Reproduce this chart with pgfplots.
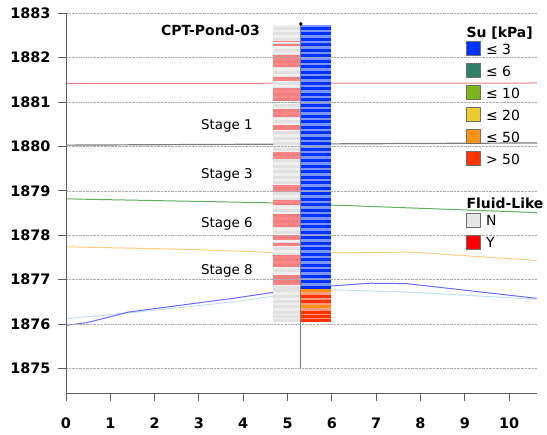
\documentclass[border=0pt]{standalone}
\usepackage{fontspec}
\setmainfont{DejaVu Sans}
\usepackage{pgfplots}
\usepackage{pgfplotstable}
\pgfplotsset{compat=1.18}

\definecolor{su3}{RGB}{0,51,255}
\definecolor{su3l}{RGB}{125,150,255}
\definecolor{su6}{RGB}{46,128,102}
\definecolor{su10}{RGB}{124,181,24}
\definecolor{su20}{RGB}{235,205,45}
\definecolor{su50}{RGB}{255,145,20}
\definecolor{su99}{RGB}{255,51,0}
\definecolor{botl}{RGB}{255,155,125}
\definecolor{fN}{RGB}{230,230,230}
\definecolor{fNbg}{RGB}{240,240,240}
\definecolor{fY}{RGB}{255,0,0}
\definecolor{fYl}{RGB}{255,135,135}
\definecolor{swgray}{RGB}{110,110,110}
\definecolor{axgray}{RGB}{95,95,95}
\definecolor{lred}{RGB}{240,130,130}
\definecolor{lgray}{RGB}{125,125,125}
\definecolor{lgreen}{RGB}{95,175,95}
\definecolor{lorange}{RGB}{255,205,130}
\definecolor{lblue}{RGB}{105,105,255}
\definecolor{lcyan}{RGB}{190,225,240}

\pgfplotstableread{
xs xf y
5.64 4.985 1882.660
5.64 4.985 1882.536
5.64 4.985 1882.412
5.64 4.985 1882.288
5.64 4.985 1882.164
5.64 4.985 1882.040
5.64 4.985 1881.916
5.64 4.985 1881.792
5.64 4.985 1881.668
5.64 4.985 1881.544
5.64 4.985 1881.420
5.64 4.985 1881.296
5.64 4.985 1881.172
5.64 4.985 1881.048
5.64 4.985 1880.924
5.64 4.985 1880.800
5.64 4.985 1880.676
5.64 4.985 1880.552
5.64 4.985 1880.428
5.64 4.985 1880.304
5.64 4.985 1880.180
5.64 4.985 1880.056
5.64 4.985 1879.932
5.64 4.985 1879.808
5.64 4.985 1879.684
5.64 4.985 1879.560
5.64 4.985 1879.436
5.64 4.985 1879.312
5.64 4.985 1879.188
5.64 4.985 1879.064
5.64 4.985 1878.940
5.64 4.985 1878.816
5.64 4.985 1878.692
5.64 4.985 1878.568
5.64 4.985 1878.444
5.64 4.985 1878.320
5.64 4.985 1878.196
5.64 4.985 1878.072
5.64 4.985 1877.948
5.64 4.985 1877.824
5.64 4.985 1877.700
5.64 4.985 1877.576
5.64 4.985 1877.452
5.64 4.985 1877.328
5.64 4.985 1877.204
5.64 4.985 1877.080
5.64 4.985 1876.956
5.64 4.985 1876.832
5.64 4.985 1876.760
5.64 4.985 1876.630
5.64 4.985 1876.510
5.64 4.985 1876.400
5.64 4.985 1876.260
5.64 4.985 1876.170
5.64 4.985 1876.070
}\allstripes

\pgfplotstableread{
xs xf y
5.64 4.985 1882.660
5.64 4.985 1882.536
5.64 4.985 1882.412
5.64 4.985 1882.288
5.64 4.985 1882.164
5.64 4.985 1882.040
5.64 4.985 1881.916
5.64 4.985 1881.792
5.64 4.985 1881.668
5.64 4.985 1881.544
5.64 4.985 1881.420
5.64 4.985 1881.296
5.64 4.985 1881.172
5.64 4.985 1881.048
5.64 4.985 1880.924
5.64 4.985 1880.800
5.64 4.985 1880.676
5.64 4.985 1880.552
5.64 4.985 1880.428
5.64 4.985 1880.304
5.64 4.985 1880.180
5.64 4.985 1880.056
5.64 4.985 1879.932
5.64 4.985 1879.808
5.64 4.985 1879.684
5.64 4.985 1879.560
5.64 4.985 1879.436
5.64 4.985 1879.312
5.64 4.985 1879.188
5.64 4.985 1879.064
5.64 4.985 1878.940
5.64 4.985 1878.816
5.64 4.985 1878.692
5.64 4.985 1878.568
5.64 4.985 1878.444
5.64 4.985 1878.320
5.64 4.985 1878.196
5.64 4.985 1878.072
5.64 4.985 1877.948
5.64 4.985 1877.824
5.64 4.985 1877.700
5.64 4.985 1877.576
5.64 4.985 1877.452
5.64 4.985 1877.328
5.64 4.985 1877.204
5.64 4.985 1877.080
5.64 4.985 1876.956
5.64 4.985 1876.832
}\bluestripes

\pgfplotstableread{
xs xf y
5.64 4.985 1876.760
5.64 4.985 1876.400
}\orangestripes

\pgfplotstableread{
xs xf y
5.64 4.985 1876.630
5.64 4.985 1876.510
5.64 4.985 1876.260
5.64 4.985 1876.170
5.64 4.985 1876.070
}\redstripes

% fluid-like = Y bands (top, bottom elevation)
\newcommand{\band}[2]{\addplot[draw=none, fill=fYl, forget plot] coordinates {(4.67,#1) (5.30,#1) (5.30,#2) (4.67,#2)};}

\pgfplotsset{legend image code/.code={\draw[#1] (0bp,-5bp) rectangle (14bp,9bp); \path (20bp,0bp);}}

\begin{document}
\begin{tikzpicture}
\useasboundingbox (-66bp,-41.7bp) rectangle (481bp,393.3bp);
\begin{axis}[
  width=471bp, height=380bp, scale only axis,
  xmin=0, xmax=10.63, ymin=1874.44, ymax=1883,
  axis x line*=bottom, axis y line*=left,
  x axis line style={-}, y axis line style={-},
  axis line style={color=axgray, line width=1bp},
  xtick={0,1,2,3,4,5,6,7,8,9,10},
  ytick={1875,1876,1877,1878,1879,1880,1881,1882,1883},
  tick align=outside, major tick length=8bp,
  tick style={color=axgray, line width=0.9bp},
  ymajorgrids,
  major grid style={densely dotted, color=gray!65, line width=0.7bp},
  axis on top,
  /pgf/number format/assume math mode=true,
  /pgf/number format/1000 sep={},
  tick label style={font=\fontsize{14.5}{16}\selectfont\bfseries},
  yticklabel style={xshift=-4bp},
  xticklabel style={yshift=-13bp},
  legend style={at={(rel axis cs:0.8486,0.989)}, anchor=north west,
    draw=none, fill=none, inner sep=0pt, outer sep=0pt,
    row sep=0pt, column sep=0pt,
    font=\fontsize{14}{16}\selectfont,
    nodes={inner sep=0pt, text height=15bp, text depth=7bp}},
  legend cell align=left,
]
% horizons
\addplot[forget plot, color=lred, line width=1bp] coordinates {(0,1881.42) (10.63,1881.43)};
\addplot[forget plot, color=lgray, line width=1.2bp] coordinates {(0,1880.03) (10.63,1880.08)};
\addplot[forget plot, color=lgreen, line width=1bp] coordinates {(0,1878.82) (4.67,1878.73) (10.63,1878.51)};
\addplot[forget plot, color=lorange, line width=1bp] coordinates {(0,1877.74) (2.87,1877.68) (5,1877.60) (7.8,1877.62) (10.63,1877.43)};
\addplot[forget plot, color=lcyan, line width=1bp] coordinates {(0,1876.12) (1.4,1876.25) (3.8,1876.50) (5.3,1876.72) (6.1,1876.77) (7.7,1876.72) (10.62,1876.56)};
\addplot[forget plot, color=lblue, line width=1bp] coordinates {(0,1875.97) (0.47,1876.03) (1.41,1876.27) (3.78,1876.58) (5.32,1876.81) (6.86,1876.92) (7.69,1876.91) (10.62,1876.58)};

% fluid-like column
\addplot[draw=none, fill=fNbg, forget plot] coordinates {(4.67,1882.73) (5.30,1882.73) (5.30,1876.04) (4.67,1876.04)};
\band{1882.382}{1882.353}
\band{1882.307}{1882.262}
\band{1882.059}{1881.795}
\band{1881.570}{1881.480}
\band{1881.308}{1881.028}
\band{1880.834}{1880.654}
\band{1880.480}{1880.367}
\band{1879.878}{1879.713}
\band{1879.127}{1878.976}
\band{1878.788}{1878.676}
\band{1878.488}{1878.186}
\band{1878.000}{1877.886}
\band{1877.819}{1877.751}
\band{1877.549}{1877.281}
\band{1877.097}{1876.872}
\addplot[forget plot, draw=none, mark=none, error bars/.cd, x dir=both, x fixed=0.315, error mark=none,
  error bar style={line width=3bp, draw=black, draw opacity=0.06}] table[x=xf, y=y] {\allstripes};

% Su column
\addplot[draw=none, fill=su3l, forget plot] coordinates {(5.30,1882.73) (5.98,1882.73) (5.98,1876.80) (5.30,1876.80)};
\addplot[draw=none, fill=botl, forget plot] coordinates {(5.30,1876.80) (5.98,1876.80) (5.98,1876.04) (5.30,1876.04)};
\addplot[forget plot, draw=none, mark=none, error bars/.cd, x dir=both, x fixed=0.34, error mark=none,
  error bar style={line width=3bp, draw=su3}] table[x=xs, y=y] {\bluestripes};
\addplot[forget plot, draw=none, mark=none, error bars/.cd, x dir=both, x fixed=0.34, error mark=none,
  error bar style={line width=3bp, draw=su50}] table[x=xs, y=y] {\orangestripes};
\addplot[forget plot, draw=none, mark=none, error bars/.cd, x dir=both, x fixed=0.34, error mark=none,
  error bar style={line width=3bp, draw=su99}] table[x=xs, y=y] {\redstripes};

% CPT axis line and top marker
\addplot[forget plot, color=gray, line width=1.2bp] coordinates {(5.3,1882.76) (5.3,1875.0)};
\addplot[forget plot, only marks, mark=*, mark size=1.6bp, color=black] coordinates {(5.3,1882.76)};

% texts
\node[anchor=base east, inner sep=0pt, font=\fontsize{14}{16}\selectfont\bfseries] at (axis cs:4.38,1882.51) {CPT-Pond-03};
\node[anchor=base east, inner sep=0pt, font=\fontsize{13.5}{16}\selectfont] at (axis cs:4.22,1880.383) {Stage 1};
\node[anchor=base east, inner sep=0pt, font=\fontsize{13.5}{16}\selectfont] at (axis cs:4.22,1879.278) {Stage 3};
\node[anchor=base east, inner sep=0pt, font=\fontsize{13.5}{16}\selectfont] at (axis cs:4.22,1878.186) {Stage 6};
\node[anchor=base east, inner sep=0pt, font=\fontsize{13.5}{16}\selectfont] at (axis cs:4.22,1877.119) {Stage 8};

% legend: Su
\addlegendimage{empty legend}\addlegendentry{\raisebox{-5bp}{\makebox[0pt][l]{\hspace*{-20bp}\bfseries Su [kPa]}}}
\addlegendimage{fill=su3, draw=swgray}\addlegendentry{≤ 3}
\addlegendimage{fill=su6, draw=swgray}\addlegendentry{≤ 6}
\addlegendimage{fill=su10, draw=swgray}\addlegendentry{≤ 10}
\addlegendimage{fill=su20, draw=swgray}\addlegendentry{≤ 20}
\addlegendimage{fill=su50, draw=swgray}\addlegendentry{≤ 50}
\addlegendimage{fill=su99, draw=swgray}\addlegendentry{> 50}
\end{axis}

\begin{axis}[
  width=471bp, height=380bp, scale only axis, hide axis,
  xmin=0, xmax=1, ymin=0, ymax=1,
  legend style={at={(rel axis cs:0.8486,0.538)}, anchor=north west,
    draw=none, fill=none, inner sep=0pt, outer sep=0pt,
    row sep=0pt, column sep=0pt,
    font=\fontsize{14}{16}\selectfont,
    nodes={inner sep=0pt, text height=15bp, text depth=7bp}},
  legend cell align=left,
]
\addlegendimage{empty legend}\addlegendentry{\raisebox{-5bp}{\makebox[0pt][l]{\hspace*{-20bp}\bfseries Fluid-Like}}}
\addlegendimage{fill=fN, draw=swgray}\addlegendentry{N}
\addlegendimage{fill=fY, draw=swgray}\addlegendentry{Y}
\end{axis}
\end{tikzpicture}
\end{document}
